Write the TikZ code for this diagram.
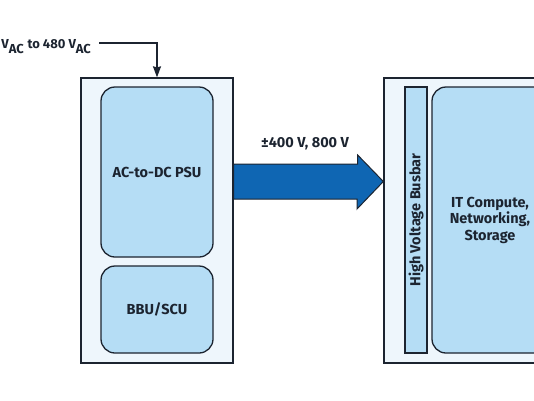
\documentclass[tikz,border=0pt]{standalone}
\usepackage{fontspec}
\setmainfont{Fira Sans}
\usetikzlibrary{arrows.meta,calc}
\definecolor{rackfill}{HTML}{EEF6FC}
\definecolor{unitfill}{HTML}{B5DDF5}
\definecolor{busblue}{HTML}{0F66B3}
\definecolor{lineclr}{HTML}{1C2430}

\begin{document}
\begin{tikzpicture}[x=1pt,y=-1pt,>=Stealth,
  rack/.style={draw=lineclr,line width=1.3pt,fill=rackfill,rectangle},
  unit/.style={draw=lineclr,line width=1.3pt,fill=unitfill,rounded corners=14pt,
    align=center,font=\bfseries\fontsize{14.5}{16.5}\selectfont,text=lineclr},
  lbl/.style={font=\bfseries\fontsize{14.5}{17}\selectfont,text=lineclr}]
  \useasboundingbox (0,0) rectangle (534,400);
  % Racks
  \node[rack,minimum width=152pt,minimum height=285pt] (prack) at (157,220.5) {};
  \node[rack,minimum width=180pt,minimum height=285pt] (itrack) at (474,220.5) {};
  % Power rack units
  \node[unit,minimum width=112pt,minimum height=170pt] (psu) at (157,172) {AC-to-DC PSU};
  \node[unit,minimum width=112pt,minimum height=87pt] (bbu) at (157,309.5) {BBU/SCU};
  % IT rack units
  \node[unit,rounded corners=0pt,minimum width=266pt,minimum height=22pt,inner sep=0pt,rotate=90] (busbar) at (416,220) {High Voltage Busbar};
  \node[unit,minimum width=116pt,minimum height=266pt] (it) at (490,220) {IT Compute,\\Networking,\\Storage};
  % AC input
  \node[lbl,font=\bfseries\fontsize{13}{15}\selectfont,anchor=base east] (acin) at (95,48.5) {V$_{\textbf{AC}}$ to 480 V$_{\textbf{AC}}$};
  \draw[lineclr,line width=1.3pt,-{Stealth[length=11pt,width=8pt,inset=1pt]}]
    (acin.east |- 0,43) ++(4,0) -| (prack.north);
  % DC bus arrow
  \draw[draw=lineclr,line width=1pt,fill=busblue]
    ($(prack.east)+(0,-56.5)$) -- ++(124,0) -- ++(0,-9) -- (itrack.west |- 0,181.5)
    -- (357,209) -- ++(0,-10) -- ($(prack.east)+(0,-21.5)$) -- cycle;
  \node[lbl] (dclbl) at (305,144) {±400 V, 800 V};
\end{tikzpicture}
\end{document}
